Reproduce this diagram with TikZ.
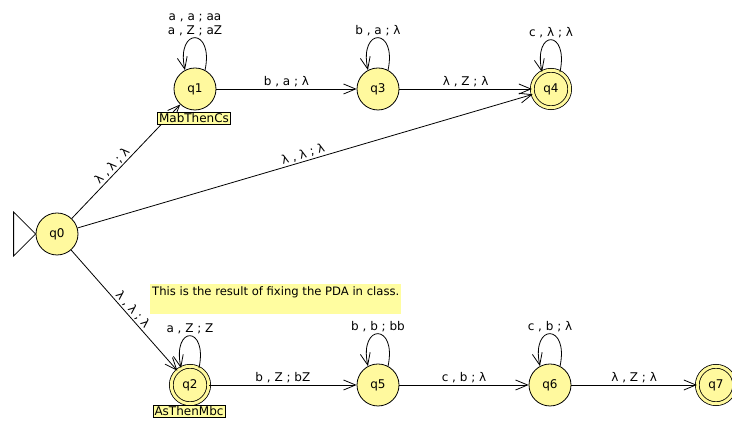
\documentclass[tikz,border=0pt]{standalone}
\usepackage{fontspec}
\setmainfont{DejaVu Sans}
\usetikzlibrary{arrows.meta}
\definecolor{statefill}{RGB}{255,249,158}
\definecolor{notefill}{RGB}{255,253,160}
\begin{document}
\begin{tikzpicture}[x=1pt,y=1pt,
  every node/.style={font=\fontsize{12}{14}\selectfont},
  state/.style={circle,draw,fill=statefill,minimum size=42pt,inner sep=0pt,line width=0.8pt},
  final/.style={state,double=statefill,double distance=3pt,minimum size=37.4pt},
  trans/.style={-{Straight Barb[length=12pt,width=10pt]},line width=0.8pt},
  lbl/.style={inner sep=1.5pt},
  tag/.style={draw,fill=notefill,inner sep=1.5pt,line width=0.6pt},
  note/.style={fill=notefill,inner xsep=2pt,inner ysep=2pt,text depth=17pt,anchor=north west,
    font=\fontsize{11.6}{14}\selectfont}]
\useasboundingbox (0,0) rectangle (732,425);

% states
\node[state] (q0) at (57,191) {q0};
\node[state] (q1) at (195,336) {q1};
\node[state] (q3) at (378,336) {q3};
\node[final] (q4) at (551,336) {q4};
\node[final] (q2) at (190,40) {q2};
\node[state] (q5) at (378,40) {q5};
\node[state] (q6) at (550,40) {q6};
\node[final] (q7) at (716,40) {q7};

% start marker
\draw[line width=0.8pt] (q0.west) -- ++(-22,22) -- ++(0,-44) -- cycle;

% transitions
\draw[trans] (q0) -- node[lbl,sloped,above,pos=0.42] {λ , λ ; λ} (q1);
\draw[trans] (q0) -- node[lbl,sloped,above,pos=0.5] {λ , λ ; λ} (q4);
\draw[trans] (q0) -- node[lbl,sloped,above,pos=0.53] {λ , λ ; λ} (q2);
\draw[trans] (q1) -- node[lbl,above] {b , a ; λ} (q3);
\draw[trans] (q3) -- node[lbl,above] {λ , Z ; λ} (q4);
\draw[trans] (q2) -- node[lbl,above] {b , Z ; bZ} (q5);
\draw[trans] (q5) -- node[lbl,above] {c , b ; λ} (q6);
\draw[trans] (q6) -- node[lbl,above] {λ , Z ; λ} (q7);

% self loops
\draw[trans] (q1.62) .. controls +(78:44) and +(102:44) .. node[lbl,above,align=center] {a , a ; aa\\a , Z ; aZ} (q1.118);
\draw[trans] (q3.62) .. controls +(78:44) and +(102:44) .. node[lbl,above] {b , a ; λ} (q3.118);
\draw[trans] (q4.62) .. controls +(78:44) and +(102:44) .. node[lbl,above] {c , λ ; λ} (q4.118);
\draw[trans] (q2.62) .. controls +(78:44) and +(102:44) .. node[lbl,above] {a , Z ; Z} (q2.118);
\draw[trans] (q5.62) .. controls +(78:44) and +(102:44) .. node[lbl,above] {b , b ; bb} (q5.118);
\draw[trans] (q6.62) .. controls +(78:44) and +(102:44) .. node[lbl,above] {c , b ; λ} (q6.118);

% state tags and note
\node[tag] (t1) at (194,307) {MabThenCs};
\node[tag] (t2) at (189,14) {AsThenMbc};
\node[note] (n1) at (150,141) {This is the result of fixing the PDA in class.};
\end{tikzpicture}
\end{document}
